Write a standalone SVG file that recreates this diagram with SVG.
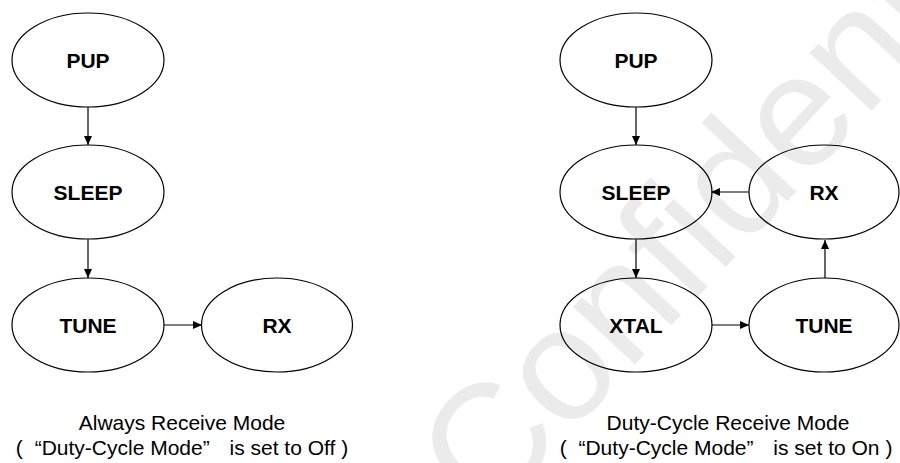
<svg xmlns="http://www.w3.org/2000/svg" width="900" height="463" viewBox="0 0 900 463">
<defs>
<style>
.node ellipse{fill:none;stroke:#000;stroke-width:1.2}
.node text{font-family:"Liberation Sans",Arial,sans-serif;font-weight:bold;font-size:21px;text-anchor:middle;fill:#000}
.edge{stroke:#000;stroke-width:1.2;fill:none;marker-end:url(#arr)}
.cap{font-family:"Liberation Sans",Arial,sans-serif;font-size:21px;text-anchor:middle;fill:#000}
.wm{font-family:"Liberation Sans",Arial,sans-serif;font-size:160px;fill:#ebebeb}
</style>
<marker id="arr" markerUnits="userSpaceOnUse" markerWidth="10" markerHeight="10" viewBox="0 -5 10 10" refX="9" refY="0" orient="auto">
<path d="M0,-4 L9,0 L0,4 z" fill="#000"/>
</marker>
</defs>
<rect width="900" height="463" fill="#fff"/>
<text class="wm" transform="translate(488,522) rotate(-47)">Confidential</text>

<g id="connectors">
<line class="edge" x1="88" y1="107" x2="88" y2="145"/>
<line class="edge" x1="88" y1="239" x2="88" y2="278"/>
<line class="edge" x1="164" y1="325" x2="202" y2="325"/>
<line class="edge" x1="636" y1="107" x2="636" y2="145"/>
<line class="edge" x1="749" y1="192" x2="711" y2="192"/>
<line class="edge" x1="636" y1="239" x2="636" y2="278"/>
<line class="edge" x1="712" y1="325" x2="749" y2="325"/>
<line class="edge" x1="825" y1="278" x2="825" y2="240"/>
</g>

<g id="l-pup" class="node"><ellipse cx="88" cy="60" rx="76" ry="47"/><text x="88" y="67.5">PUP</text></g>
<g id="l-sleep" class="node"><ellipse cx="88" cy="192" rx="76" ry="47"/><text x="88" y="199.5">SLEEP</text></g>
<g id="l-tune" class="node"><ellipse cx="88" cy="325" rx="76" ry="47"/><text x="88" y="332.5">TUNE</text></g>
<g id="l-rx" class="node"><ellipse cx="277" cy="325" rx="75.5" ry="47"/><text x="277" y="332.5">RX</text></g>

<g id="r-pup" class="node"><ellipse cx="636" cy="60" rx="76" ry="47"/><text x="636" y="67.5">PUP</text></g>
<g id="r-sleep" class="node"><ellipse cx="636" cy="192" rx="76" ry="47"/><text x="636" y="199.5">SLEEP</text></g>
<g id="r-rx" class="node"><ellipse cx="824" cy="192" rx="75" ry="47"/><text x="824" y="199.5">RX</text></g>
<g id="r-xtal" class="node"><ellipse cx="636" cy="325" rx="76" ry="47"/><text x="636" y="332.5">XTAL</text></g>
<g id="r-tune" class="node"><ellipse cx="824" cy="325" rx="75" ry="47"/><text x="824" y="332.5">TUNE</text></g>

<g id="caption-left">
<text class="cap" x="182" y="430">Always Receive Mode</text>
<text class="cap" x="182" y="455">( <tspan dx="6">“</tspan>Duty-Cycle Mode”<tspan dx="14"> is set to Off )</tspan></text>
</g>
<g id="caption-right">
<text class="cap" x="728" y="430">Duty-Cycle Receive Mode</text>
<text class="cap" x="726" y="455">( <tspan dx="6">“</tspan>Duty-Cycle Mode”<tspan dx="14"> is set to On )</tspan></text>
</g>
</svg>
